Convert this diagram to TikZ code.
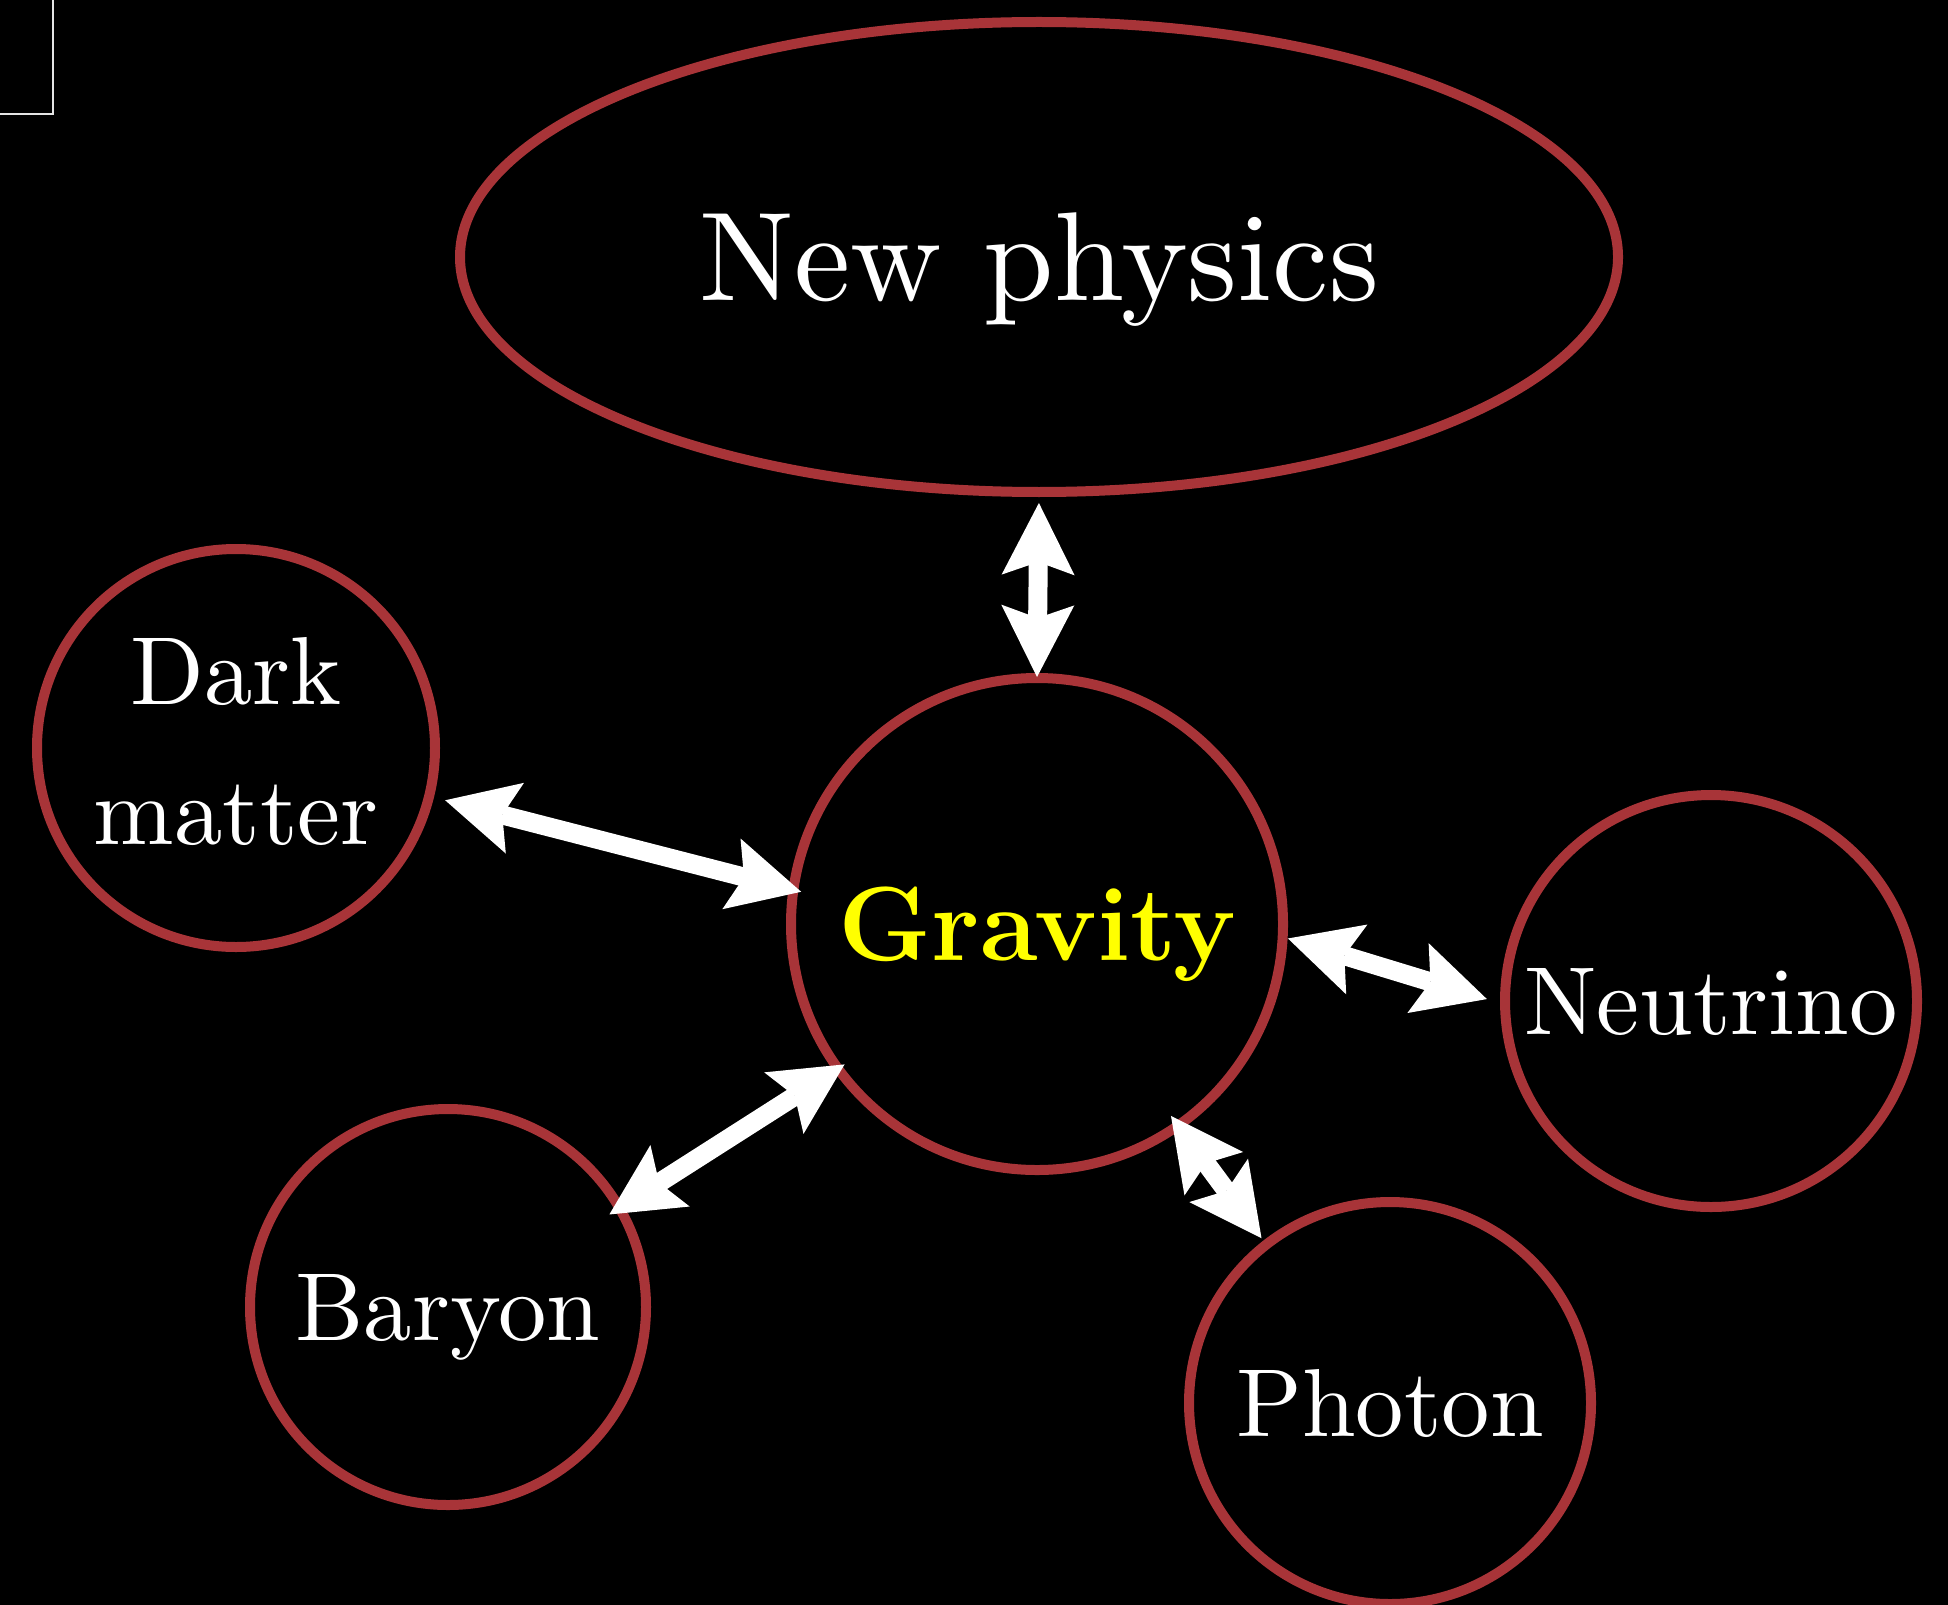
\documentclass[tikz,border=0pt]{standalone}
\usepackage{fontspec}
\setmainfont{lmroman10-regular.otf}[BoldFont=lmroman12-bold.otf]
\usetikzlibrary{arrows.meta, positioning, shapes.geometric}
\definecolor{rimred}{HTML}{A83438}
\definecolor{gravyellow}{HTML}{FFFF00}

\tikzset{
  blob/.style={circle, draw=rimred, line width=1mm, inner sep=0pt, outer sep=0pt,
    text=white, text depth=0pt, align=center, font=\fontsize{27.5}{40}\selectfont},
  bigblob/.style={ellipse, draw=rimred, line width=1mm, inner sep=0pt, outer sep=0pt,
    text=white, text depth=0pt, font=\fontsize{36}{40}\selectfont},
  link/.style={<->, >={Stealth[length=7.2mm, width=7.3mm, inset=1.3mm, line width=0pt]},
    white, line width=1.9mm},
}

\begin{document}
\begin{tikzpicture}[x=0.1mm, y=-0.1mm]
  % Page
  \useasboundingbox (0,0) rectangle (1948,1604);
  \fill[black] (-20,-20) rectangle (1970,1625);
  \draw[white!90!black, line width=0.2mm] (-30,-30) rectangle (53,114);
  % Topics
  \node[bigblob, minimum width=115.8mm, minimum height=47mm] (newphys) at (1039,257) {New physics};
  \node[blob, minimum size=49.2mm, text=gravyellow, font=\bfseries\fontsize{30}{36}\selectfont] (grav) at (1037,924) {Gravity};
  \node[blob, minimum size=39.8mm, text depth=1.4mm] (dm) at (236,748) {Dark\\matter};
  \node[blob, minimum size=41.2mm] (neu) at (1711,1001) {Neutrino};
  \node[blob, minimum size=39.6mm] (bary) at (448,1307) {Baryon};
  \node[blob, minimum size=40.2mm] (phot) at (1390,1403) {Photon};
  % Links
  \draw[link, shorten <=1.1mm, shorten >=0.1mm] (newphys.south) -- (grav.north);
  \draw[link, shorten <=1.66mm, shorten >=-0.8mm] (dm.-14.2) -- (grav.172.3);
  \draw[link, shorten <=0.55mm, shorten >=1.9mm] (grav.-3.6) -- (neu.-179.2);
  \draw[link, shorten <=-0.78mm, shorten >=-1.2mm] (grav.216.3) -- (bary.30);
  \draw[link, shorten <=-1.2mm, shorten >=0.8mm] (grav.-55.1) -- (phot.128.8);
\end{tikzpicture}
\end{document}
